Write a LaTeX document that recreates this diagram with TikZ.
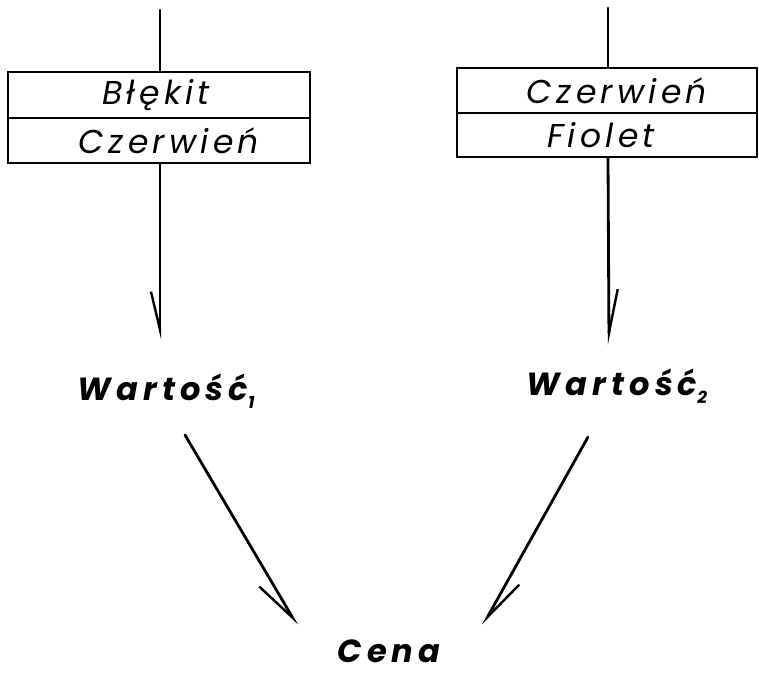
\documentclass[tikz,border=0pt]{standalone}
\usepackage{fontspec}
\setmainfont{Poppins}
\newfontfamily\boxfont{Poppins}[LetterSpace=13]
\newfontfamily\labfont{Poppins}[LetterSpace=16]
\usetikzlibrary{arrows.meta}
\begin{document}
\begin{tikzpicture}[x=1pt,y=-1pt,
  cell/.style={draw, line width=2.8pt, inner sep=0pt, minimum width=302pt,
    font=\boxfont\itshape\fontsize{33}{33}\selectfont},
  lab/.style={inner sep=0pt, anchor=base, font=\labfont\bfseries\itshape\fontsize{32}{32}\selectfont},
  wire/.style={line width=2.8pt, line cap=round},
  barbR/.style={wire, -{Straight Barb[harpoon, swap, length=38pt, width=18pt, line width=2.4pt]}},
  barbL/.style={wire, -{Straight Barb[harpoon, length=44pt, width=18pt, line width=2.4pt]}},
  dbarbR/.style={wire, -{Straight Barb[harpoon, swap, length=44pt, width=26pt, line width=2.4pt]}},
  dbarbL/.style={wire, -{Straight Barb[harpoon, length=44pt, width=24pt, line width=2.4pt]}}
]
\useasboundingbox (0,0) rectangle (759,673);

% left box
\node[cell, minimum height=46pt] (b1) at (159,95) {\hspace*{-6pt}Błękit};
\node[cell, minimum height=45pt] (b2) at (159,140.5) {\hspace*{20pt}Czerwień};
% right box
\node[cell, minimum width=300pt, minimum height=45pt] (r1) at (607,90.5) {\hspace*{20pt}Czerwień};
\node[cell, minimum width=300pt, minimum height=44pt] (r2) at (607,135) {\hspace*{-12pt}Fiolet};

\coordinate (inL) at (160,10);
\coordinate (inR) at (608,8);

% labels
\node[lab] (w1) at (166,400) {Wartość\raisebox{-8pt}{\fontsize{17}{17}\selectfont 1}};
\node[lab] (w2) at (617,395) {Wartość\raisebox{-8pt}{\fontsize{17}{17}\selectfont 2}};
\node[lab] (cena) at (389,662) {Cena};

% connectors
\draw[wire] (inL) -- (inL |- b1.north);
\draw[wire] (inR) -- (inR |- r1.north);
\draw[barbR] (inL |- b2.south) -- ([shift={(-6,-60)}]w1.base);
\draw[barbL] (inR |- r2.south) -- ([shift={(-8,-50)}]w2.base);
\draw[dbarbR] ([shift={(19,35)}]w1.base) -- ([shift={(-92,-37)}]cena.base);
\draw[dbarbL] ([shift={(-29,42)}]w2.base) -- ([shift={(94,-37)}]cena.base);
\end{tikzpicture}
\end{document}
